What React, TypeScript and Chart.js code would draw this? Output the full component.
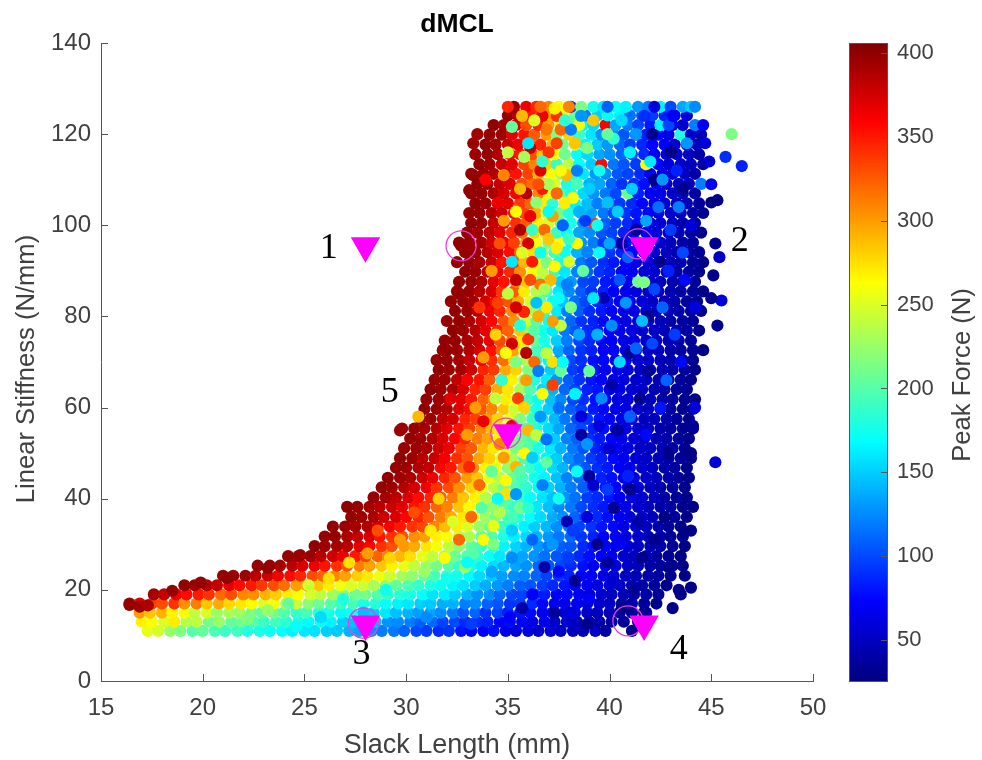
import React, { useEffect, useRef } from "react";
import { Chart, registerables } from "chart.js";

Chart.register(...registerables);

// Each row: slack length, peak force, slack length, peak force ... read at one stiffness level.
const r11 = [17.3,255,17.8,248,18.4,225,18.9,215,19.5,200,20,205,20.6,195,21.1,190,21.7,192,22.2,180,22.8,178,23.3,172,23.9,170,24.4,165,25,160,25.5,158,26.1,150,26.6,148,27.2,140,27.7,135,28.3,128,28.8,120,29.4,118,29.9,110,30.5,100,31,95,31.6,88,32.1,92,32.7,80,33.2,75,33.8,70,34.3,78,34.9,65,35.4,60,36,62,36.5,55,37.1,58,37.6,50,38.2,48,38.7,45,39.3,52,39.8,38,41.1,30];
const r13 = [17,268,17.5,262,18.1,250,18.6,270,19.2,235,19.7,240,20.3,212,20.8,225,21.4,205,21.9,208,22.5,200,23,190,23.6,192,24.1,185,24.7,178,25.2,168,25.8,172,26.3,165,26.9,150,27.4,145,28,130,28.5,142,29.1,128,29.6,125,30.2,120,30.7,108,31.3,112,31.8,98,32.4,100,32.9,88,33.5,90,34,85,34.6,72,35.1,76,35.7,70,36.2,62,36.8,66,37.3,52,37.9,55,38.4,48,39,50,39.5,42,40.1,38,40.7,34,41.4,30];
const r15 = [16.9,300,17.4,285,18,292,18.5,268,19.1,262,19.6,240,20.2,250,20.7,225,21.3,232,21.8,228,22.4,215,22.9,205,23.5,212,24,200,24.6,190,25.1,195,25.7,182,26.2,178,26.8,168,27.3,172,27.9,158,28.4,150,29,160,29.5,145,30.1,140,30.6,132,31.2,135,31.7,125,32.3,118,32.8,105,33.4,110,33.9,92,34.5,98,35,85,35.6,80,36.1,76,36.7,68,37.2,70,37.8,58,38.3,62,38.9,52,39.4,48,40,45,40.5,40,41.1,34,41.7,30];
const r17 = [16.4,395,16.9,372,17.5,335,18,330,18.6,340,19.1,305,19.7,312,20.2,285,20.8,295,21.3,278,21.9,272,22.4,265,23,250,23.5,258,24.1,238,24.6,242,25.2,220,25.7,208,26.3,200,26.8,190,27.4,195,27.9,178,28.5,182,29,170,29.6,165,30.1,160,30.7,150,31.2,148,31.8,138,32.3,140,32.9,120,33.4,125,34,110,34.5,105,35.1,92,35.6,95,36.2,88,36.7,75,37.3,70,37.8,65,38.4,68,38.9,55,39.5,52,40,50,40.6,42,41.1,38,41.7,35,42.3,30];
const r19 = [17.6,392,18.1,380,18.7,365,19.2,355,19.8,350,20.3,340,20.9,320,21.4,330,22,308,22.5,305,23.1,292,23.6,282,24.2,270,24.7,262,25.3,248,25.8,238,26.4,228,26.9,222,27.5,210,28,212,28.6,198,29.1,190,29.7,182,30.2,178,30.8,170,31.3,158,31.9,162,32.4,150,33,140,33.5,128,34.1,125,34.6,112,35.2,100,35.7,98,36.3,90,36.8,82,37.4,72,37.9,75,38.5,68,39,58,39.6,55,40.1,50,40.7,46,41.2,42,41.8,40,42.4,32,43.5,28];
const r21 = [19.1,398,19.6,395,20.2,388,20.7,380,21.3,368,21.8,355,22.4,350,22.9,338,23.5,330,24,318,24.6,300,25.1,296,25.7,285,26.2,270,26.8,258,27.3,250,27.9,245,28.4,232,29,222,29.5,205,30.1,198,30.6,188,31.2,180,31.7,172,32.3,165,32.8,158,33.4,150,33.9,138,34.5,130,35,120,35.6,108,36.1,105,36.7,95,37.2,88,37.8,80,38.3,72,38.9,68,39.4,60,40,58,40.5,52,41.1,44,41.6,40,42.2,36,42.8,30];
const r24 = [21,398,21.5,395,22.1,396,22.6,385,23.2,378,23.7,362,24.3,355,24.8,345,25.4,330,25.9,322,26.5,308,27,298,27.6,282,28.1,272,28.7,258,29.2,245,29.8,230,30.3,222,30.9,205,31.4,195,32,188,32.5,175,33.1,168,33.6,155,34.2,148,34.7,132,35.3,125,35.8,122,36.4,110,36.9,98,37.5,92,38,85,38.6,72,39.1,70,39.7,62,40.2,60,40.8,50,41.3,45,41.9,42,42.4,38,43,32,43.7,28];
const r26 = [22.7,398,23.3,396,23.8,392,24.4,385,24.9,372,25.5,365,26,352,26.6,340,27.1,328,27.7,312,28.2,298,28.8,285,29.3,268,29.9,255,30.4,240,31,225,31.5,212,32.1,200,32.6,188,33.2,178,33.7,165,34.3,155,34.8,142,35.4,135,35.9,128,36.5,112,37,105,37.6,98,38.1,88,38.7,78,39.2,68,39.8,65,40.3,58,40.9,52,41.4,46,42,42,42.5,36,43.1,32,43.6,28];
const r28 = [24.2,398,24.7,396,25.3,395,25.8,385,26.4,376,26.9,365,27.5,350,28,335,28.6,322,29.1,308,29.7,290,30.2,275,30.8,255,31.3,240,31.9,225,32.4,208,33,198,33.5,182,34.1,172,34.6,160,35.2,145,35.7,135,36.3,128,36.8,115,37.4,105,37.9,100,38.5,88,39,78,39.6,70,40.1,68,40.7,55,41.2,50,41.8,45,42.3,38,42.9,32,43.5,28];
const r30 = [25.5,400,26,396,26.6,392,27.1,385,27.7,368,28.2,358,28.8,340,29.3,328,29.9,302,30.4,295,31,272,31.5,260,32.1,240,32.6,222,33.2,205,33.7,192,34.3,182,34.8,165,35.4,152,35.9,140,36.5,130,37,118,37.6,108,38.1,105,38.7,88,39.2,80,39.8,72,40.3,68,40.9,58,41.4,50,42,45,42.5,42,43.1,34,43.7,28];
const r32 = [26,398,26.5,398,27.1,390,27.6,380,28.2,372,28.7,352,29.3,340,29.8,330,30.4,305,30.9,300,31.5,268,32,262,32.6,240,33.1,232,33.7,205,34.2,198,34.8,180,35.3,165,35.9,155,36.4,140,37,130,37.5,118,38.1,112,38.6,92,39.2,85,39.7,72,40.3,70,40.8,60,41.4,52,41.9,48,42.5,40,43,34,43.6,28];
const r35 = [26.4,400,27,396,27.5,392,28.1,388,28.6,375,29.2,362,29.7,350,30.3,340,30.8,332,31.4,310,31.9,288,32.5,270,33,250,33.6,225,34.1,212,34.7,190,35.2,178,35.8,165,36.3,150,36.9,142,37.4,125,38,118,38.5,98,39.1,92,39.6,80,40.2,75,40.7,62,41.3,55,41.8,48,42.4,42,42.9,35,43.5,28];
const r37 = [27.3,398,27.8,395,28.4,390,28.9,378,29.5,372,30,358,30.6,345,31.1,328,31.7,312,32.2,295,32.8,272,33.3,255,33.9,228,34.4,215,35,195,35.5,182,36.1,170,36.6,155,37.2,138,37.7,128,38.3,110,38.8,95,39.4,88,39.9,78,40.5,68,41,60,41.6,52,42.1,48,42.7,40,43.2,34,43.8,28];
const r39 = [27.1,400,27.6,396,28.2,392,28.7,385,29.3,378,29.8,368,30.4,352,30.9,340,31.5,322,32,310,32.6,285,33.1,265,33.7,245,34.2,222,34.8,205,35.3,188,35.9,172,36.4,160,37,145,37.5,125,38.1,118,38.6,100,39.2,90,39.7,82,40.3,70,40.8,65,41.4,55,41.9,50,42.5,42,43,38,43.6,30,44.1,28];
const r41 = [28.4,398,29,392,29.5,382,30.1,372,30.6,355,31.2,345,31.7,325,32.3,312,32.8,285,33.4,268,33.9,235,34.5,222,35,200,35.6,190,36.1,170,36.7,158,37.2,145,37.8,128,38.3,115,38.9,95,39.4,88,40,80,40.5,68,41.1,62,41.6,55,42.2,48,42.7,40,43.3,35,43.8,30];
const r43 = [28.8,398,29.3,395,29.9,385,30.4,375,31,362,31.5,340,32.1,330,32.6,305,33.2,280,33.7,262,34.3,238,34.8,212,35.4,198,35.9,185,36.5,168,37,152,37.6,140,38.1,120,38.7,108,39.2,88,39.8,82,40.3,72,40.9,62,41.4,55,42,50,42.5,42,43.1,38,43.7,30];
const r45 = [29.1,400,29.7,395,30.2,390,30.8,378,31.3,365,31.9,345,32.4,328,33,300,33.5,285,34.1,258,34.6,235,35.2,205,35.7,192,36.3,175,36.8,165,37.4,145,37.9,122,38.5,112,39,95,39.6,85,40.1,78,40.7,68,41.2,60,41.8,52,42.3,48,42.9,40,43.4,35,43.9,30];
const r47 = [29.5,398,30,395,30.6,388,31.1,382,31.7,358,32.2,350,32.8,320,33.3,305,33.9,268,34.4,255,35,222,35.5,198,36.1,188,36.6,170,37.2,155,37.7,140,38.3,118,38.8,105,39.4,90,39.9,82,40.5,72,41,65,41.6,55,42.1,50,42.7,42,43.2,38,43.8,30];
const r49 = [29.7,400,30.3,396,30.8,385,31.4,380,31.9,362,32.5,342,33,328,33.6,298,34.1,280,34.7,250,35.2,232,35.8,195,36.3,182,36.9,165,37.4,150,38,125,38.5,112,39.1,95,39.6,85,40.2,75,40.7,68,41.3,58,41.8,52,42.4,45,42.9,40,43.5,35,44,30];
const r51 = [29.9,398,30.5,395,31,390,31.6,378,32.1,365,32.7,335,33.2,325,33.8,290,34.3,272,34.9,258,35.4,215,36,200,36.5,178,37.1,160,37.6,140,38.2,118,38.7,105,39.3,85,39.8,78,40.4,70,40.9,62,41.5,52,42,50,42.6,45,43.1,38,43.7,32];
const r53 = [30.2,398,30.7,395,31.3,388,31.8,372,32.4,360,32.9,345,33.5,312,34,298,34.6,268,35.1,262,35.7,205,36.2,195,36.8,168,37.3,150,37.9,122,38.4,108,39,90,39.5,82,40.1,72,40.6,65,41.2,58,41.7,52,42.3,45,42.8,42,43.4,36,43.9,30];
const r55 = [29.8,395,30.4,398,30.9,392,31.5,385,32,370,32.6,352,33.1,335,33.7,308,34.2,290,34.8,255,35.3,240,35.9,198,36.4,182,37,155,37.5,135,38.1,112,38.6,100,39.2,85,39.7,78,40.3,68,40.8,60,41.4,55,41.9,50,42.5,44,43,38,43.6,32,44.1,28];
const r57 = [30.7,398,31.2,395,31.8,382,32.3,375,32.9,345,33.4,335,34,300,34.5,280,35.1,255,35.6,218,36.2,190,36.7,165,37.3,142,37.8,118,38.4,100,38.9,92,39.5,80,40,72,40.6,62,41.1,58,41.7,50,42.2,48,42.8,42,43.3,36,43.9,30];
const r59 = [30.9,400,31.5,396,32,388,32.6,370,33.1,355,33.7,328,34.2,310,34.8,285,35.3,245,35.9,212,36.4,178,37,150,37.5,130,38.1,108,38.6,95,39.2,82,39.7,75,40.3,65,40.8,60,41.4,55,41.9,48,42.5,45,43,38,43.6,32,44.1,30];
const r61 = [31,398,31.6,395,32.1,385,32.7,368,33.2,350,33.8,322,34.3,305,34.9,270,35.4,255,36,190,36.5,170,37.1,145,37.6,125,38.2,100,38.7,90,39.3,78,39.8,72,40.4,60,40.9,58,41.5,52,42,48,42.6,42,43.1,38,43.7,32,44.2,28];
const r63 = [31.2,400,31.7,396,32.3,390,32.8,372,33.4,345,33.9,335,34.5,295,35,272,35.6,230,36.1,198,36.7,155,37.2,140,37.8,112,38.3,98,38.9,85,39.4,80,40,65,40.5,62,41.1,55,41.6,52,42.2,45,42.7,42,43.3,36,43.8,32];
const r65 = [31.4,398,31.9,395,32.5,382,33,375,33.6,352,34.1,325,34.7,312,35.2,268,35.8,225,36.3,180,36.9,162,37.4,128,38,108,38.5,92,39.1,80,39.6,75,40.2,68,40.7,60,41.3,55,41.8,50,42.4,45,42.9,42,43.5,35,44,30];
const r67 = [31.6,400,32.1,396,32.7,392,33.2,378,33.8,345,34.3,338,34.9,295,35.4,280,36,215,36.5,175,37.1,150,37.6,122,38.2,95,38.7,88,39.3,78,39.8,70,40.4,65,40.9,60,41.5,52,42,50,42.6,45,43.1,40,43.7,36,44.2,30];
const r70 = [31.5,398,32,398,32.6,392,33.1,380,33.7,360,34.2,342,34.8,318,35.3,282,35.9,232,36.4,185,37,165,37.5,128,38.1,100,38.6,90,39.2,78,39.7,75,40.3,68,40.8,62,41.4,55,41.9,52,42.5,48,43,42,43.6,38,44.1,32];
const r72 = [32,400,32.5,395,33.1,388,33.6,372,34.2,352,34.7,325,35.3,298,35.8,250,36.4,192,36.9,170,37.5,135,38,110,38.6,92,39.1,85,39.7,72,40.2,70,40.8,62,41.3,58,41.9,50,42.4,48,43,42,43.5,38,44.1,35,44.6,28];
const r74 = [31.9,398,32.4,398,33,390,33.5,380,34.1,365,34.6,332,35.2,315,35.7,270,36.3,205,36.8,178,37.4,150,37.9,120,38.5,98,39,88,39.6,75,40.1,72,40.7,65,41.2,60,41.8,52,42.3,50,42.9,45,43.4,40,44,36];
const r76 = [32.3,400,32.8,395,33.4,385,33.9,368,34.5,345,35,322,35.6,285,36.1,225,36.7,175,37.2,160,37.8,118,38.3,105,38.9,88,39.4,82,40,72,40.5,65,41.1,62,41.6,55,42.2,52,42.7,46,43.3,40,43.8,38,44.4,30];
const r78 = [32,398,32.6,398,33.1,390,33.7,375,34.2,358,34.8,328,35.3,305,35.9,245,36.4,200,37,170,37.5,135,38.1,112,38.6,92,39.2,85,39.7,75,40.3,70,40.8,62,41.4,58,41.9,52,42.5,48,43,42,43.6,38,44.1,34];
const r80 = [32.4,400,33,395,33.5,385,34.1,362,34.6,345,35.2,310,35.7,282,36.3,230,36.8,178,37.4,162,37.9,120,38.5,108,39,90,39.6,82,40.1,72,40.7,65,41.2,62,41.8,55,42.3,50,42.9,45,43.4,40,44,38,44.5,30];
const r83 = [32.2,398,32.8,398,33.3,392,33.9,375,34.4,355,35,328,35.5,295,36.1,250,36.6,205,37.2,172,37.7,145,38.3,115,38.8,100,39.4,88,39.9,80,40.5,70,41,68,41.6,58,42.1,52,42.7,48,43.2,42,43.8,38,44.3,32];
const r85 = [32.5,400,33.1,396,33.6,385,34.2,372,34.7,340,35.3,325,35.8,270,36.4,235,36.9,190,37.5,160,38,125,38.6,108,39.1,92,39.7,85,40.2,72,40.8,68,41.3,60,41.9,55,42.4,50,43,45,43.5,40,44.1,36,44.6,30];
const r87 = [32.6,398,33.2,398,33.7,390,34.3,368,34.8,352,35.4,315,35.9,282,36.5,225,37,205,37.6,150,38.1,132,38.7,100,39.2,95,39.8,82,40.3,78,40.9,65,41.4,210,42,55,42.5,48,43.1,44,43.6,38,44.2,34];
const r89 = [32.9,400,33.4,396,34,385,34.5,362,35.1,345,35.6,305,36.2,262,36.7,240,37.3,185,37.8,160,38.4,122,38.9,110,39.5,92,40,85,40.6,72,41.1,68,41.7,58,42.2,55,42.8,48,43.3,42,43.9,38,44.4,32];
const r91 = [32.5,398,33.1,398,33.6,390,34.2,378,34.7,352,35.3,338,35.8,290,36.4,268,36.9,215,37.5,178,38,150,38.6,118,39.1,105,39.7,90,40.2,82,40.8,70,41.3,65,41.9,58,42.4,52,43,46,43.5,42,44.1,36,44.6,30];
const r94 = [32.9,398,33.4,396,34,385,34.5,372,35.1,355,35.6,320,36.2,275,36.7,235,37.3,195,37.8,172,38.4,140,38.9,122,39.5,110,40,92,40.6,85,41.1,72,41.7,66,42.2,55,42.8,50,43.3,45,43.9,38,44.4,34];
const r96 = [32.6,400,33.1,398,33.7,392,34.2,375,34.8,362,35.3,335,35.9,300,36.4,262,37,210,37.5,265,38.1,168,38.6,128,39.2,120,39.7,95,40.3,92,40.8,78,41.4,70,41.9,62,42.5,55,43,48,43.6,42,44.1,36];
const r98 = [33,398,33.5,392,34.1,382,34.6,368,35.2,345,35.7,318,36.3,280,36.8,240,37.4,190,37.9,170,38.5,135,39,125,39.6,105,40.1,98,40.7,85,41.2,75,41.8,68,42.3,58,42.9,50,43.4,45,44,38,44.5,32];
const r100 = [33.2,400,33.7,396,34.3,380,34.8,372,35.4,340,35.9,325,36.5,268,37,248,37.6,195,38.1,178,38.7,130,39.2,340,39.8,108,40.3,95,40.9,88,41.4,78,42,65,42.5,58,43.1,50,43.6,42,44.2,36];
const r103 = [33.1,398,33.6,398,34.2,388,34.7,378,35.3,355,35.8,335,36.4,292,36.9,250,37.5,210,38,180,38.6,150,39.1,135,39.7,118,40.2,102,40.8,92,41.3,80,41.9,72,42.4,62,43,55,43.5,48,44.1,40,44.6,32];
const r105 = [33.4,400,33.9,395,34.5,382,35,368,35.6,338,36.1,322,36.7,270,37.2,185,37.8,235,38.3,165,38.9,145,39.4,120,40,110,40.5,95,41.1,88,41.6,75,42.2,68,42.7,55,43.3,50,43.8,45,44.4,36];
const r107 = [33.2,398,33.7,398,34.3,390,34.8,375,35.4,360,35.9,325,36.5,310,37,255,37.6,200,38.1,180,38.7,155,39.2,128,39.8,118,40.3,100,40.9,210,41.4,85,42,70,42.5,65,43.1,52,43.6,48,44.2,38];
const r109 = [33.5,400,34,392,34.6,380,35.1,372,35.7,330,36.2,318,36.8,275,37.3,250,37.9,178,38.4,195,39,140,39.5,135,40.1,110,40.6,92,41.2,90,41.7,78,42.3,65,42.8,55,43.4,50,43.9,45,44.5,120];
const r111 = [33.2,398,33.8,396,34.3,388,34.9,378,35.4,352,36,335,36.5,290,37.1,265,37.6,225,38.2,175,38.7,160,39.3,130,39.8,125,40.4,105,40.9,98,41.5,88,42,72,42.6,62,43.1,58,43.7,50,44.2,42];
const r114 = [33.6,400,34.1,395,34.7,380,35.2,370,35.8,335,36.3,310,36.9,280,37.4,190,38,240,38.5,170,39.1,150,39.6,355,40.2,118,40.7,105,41.3,95,41.8,260,42.4,75,42.9,58,43.5,52,44,48,44.6,40];
const r116 = [33.4,395,34,398,34.5,388,35.1,365,35.6,350,36.2,330,36.7,285,37.3,260,37.8,210,38.4,170,38.9,155,39.5,135,40,128,40.6,110,41.1,100,41.7,88,42.2,70,42.8,62,43.3,55,43.9,50,44.4,42];
const r118 = [33.9,400,34.4,392,35,380,35.5,365,36.1,320,36.6,345,37.2,290,37.7,210,38.3,245,38.8,165,39.4,150,39.9,130,40.5,112,41,98,41.6,88,42.1,72,42.7,70,43.2,55,43.8,52,44.3,45];
const r120 = [34.1,398,34.7,395,35.2,370,35.8,352,36.3,325,36.9,300,37.4,215,38,280,38.5,190,39.1,160,39.6,130,40.2,125,40.7,105,41.3,95,41.8,85,42.4,75,42.9,62,43.5,180,44,55,44.5,45];
const r122 = [34.3,400,34.8,392,35.4,375,35.9,330,36.5,345,37,300,37.6,270,38.1,195,38.7,168,39.2,155,39.8,360,40.3,135,40.9,120,41.4,100,42,82,42.5,165,43.1,65,43.6,55,44.2,120,44.6,70];
const r124 = [35,398,35.5,385,36.1,350,36.6,335,37.2,295,37.7,250,38.3,210,38.8,120,39.4,150,39.9,170,40.5,165,41,115,41.6,105,42.1,95,42.7,85,43.2,72,43.8,60];
const r126 = [35.3,395,35.9,365,36.4,345,37,310,37.5,265,38.1,90,38.6,215,39.2,175,39.7,160,40.3,170,40.8,165,41.4,130,41.9,120,42.5,165,43,100,43.6,135,44,150];

const stiffnessLevels = [11,13,15,17,19,21,23.1,25.3,27.4,29.6,31.7,33.9,36,38.2,40.3,42.5,44.6,46.8,48.9,51.1,53.2,55.4,57.5,59.7,61.8,64,66.1,68.3,70.4,72.6,74.7,76.9,79,81.2,83.3,85.5,87.6,89.8,91.9,94.1,96.2,98.4,100.5,102.7,104.8,107,109.1,111.3,113.4,115.6,117.7,119.9,122,124.1,126];
const stiffnessRows = [r11,r13,r15,r17,r19,r21,r24,r26,r28,r30,r32,r35,r37,r39,r41,r43,r45,r47,r49,r51,r53,r55,r57,r59,r61,r63,r65,r67,r70,r72,r74,r76,r78,r80,r83,r85,r87,r89,r91,r94,r96,r98,r100,r103,r105,r107,r109,r111,r114,r116,r118,r120,r122,r124,r126];

// Warm points reaching right into the upper cloud: [slack, stiffness, force]
const warmUpper = [[35.5,62,335],[35.9,66,300],[36.3,70,320],[36.7,63,265],[35.2,74,375],[35.8,81,345],[36.5,80,295],[36.9,82,270],[35.9,72,385],[35.4,88,380],[36.2,92,350],[36.6,87,315],[37.1,88,290],[37.4,95,270],[36,96,375],[36.8,99,320],[37.2,102,300],[36.1,102,365],[35.6,99,390],[35.9,107,385],[36.7,108,350],[37.4,107,320],[37.9,111,290],[36.6,112,370],[36.1,117,380],[37,116,340],[37.6,121,320],[38.3,118,285],[36.7,124,365],[37.4,124,340],[38,126,310],[38.5,122,260],[38.2,106,260],[38,92,250],[37.6,78,240],[37.2,70,275],[37.6,68,205],[36,55,290],[35.8,50,265],[36.4,54,240],[36.9,48,205],[35.4,47,290],[34.9,41,275],[35.6,38,210],[34.3,34,255],[33.8,31,265],[33.2,36,320],[32.6,31,320],[32.9,25,225],[31.9,27,265],[34.6,37,235],[35.2,36,195]];
// Points in the upper cloud, where colours are strongly mixed: [slack, stiffness, force]
const mixedUpper = [[35.2,121.6,205],[37.3,125.6,268],[36,118,160],[34.8,111,310],[35.6,108,290],[36.3,123,250],[36.7,114,185],[37.4,118,335],[38.1,121,120],[38.4,112,120],[38.9,117,215],[37.8,105,270],[37,103,170],[36.2,99,190],[35.4,103,265],[34.6,96,330],[35.2,92,160],[36.1,88,330],[36.6,94,175],[37.3,91,265],[37.9,87,120],[38.4,96,265],[38.7,90,205],[39.2,84,160],[38.1,82,215],[37.2,79,300],[36.4,83,145],[35.6,78,180],[36,75,340],[36.9,72,240],[37.7,70,170],[38.5,76,135],[39,68,205],[38.3,63,165],[37.2,65,335],[36.5,68,120],[35.4,70,215],[34.7,66,185],[35.8,60,280],[36.6,58,130],[37.5,60,115],[38.6,58,60],[39.6,62,125],[40.1,78,125],[40.8,83,130],[41.6,79,145],[42.1,74,100],[40.5,70,155],[41.3,73,110],[42.6,82,110],[43.2,76,95],[41.7,87.5,215],[40.9,93,110],[40,96,135],[39.4,100,175],[39.9,105,145],[40.4,103,150],[41.1,108,150],[41.8,101,135],[42.4,104,115],[43,99,95],[43.6,94,100],[42.9,90,85],[42.2,86,100],[41,116,165],[40.2,119,185],[39.5,112,175],[39,108,150],[38.5,103,140],[39.9,120,205],[40.6,123,155],[41.3,120,130],[42,114,160],[42.6,110,130],[43.3,112,85],[43.8,118,130],[42.9,122,100],[41.7,124,90],[43.4,104,120],[44,100,60],[43.7,88,75],[44.2,82,60],[43.5,70,75],[42.8,66,110],[37,109,230],[36.4,105,220],[35.8,115,230],[35,116,240],[34.5,105,365],[33.9,110,360],[34.8,101,300],[34.2,90,300],[33.6,82,340],[34.4,76,280],[33.8,71,300],[33,66,360],[34.9,72,260],[33.4,60,300],[32.2,62,370],[33,54,300],[33.8,57,365],[34.6,52,310],[35.2,56,370],[34.4,62,240],[38,97,190],[37.5,84,170],[36.8,86,230],[36.3,77,200],[35.7,94,250],[35,85,240],[34.5,83,335],[35.4,82,375],[37.6,112,265],[39.2,123,285],[38.6,124,130],[37.8,123,185],[36.9,121,315],[35.7,124,290],[35,126,345],[36.6,126,320],[39.9,126,110],[42.2,126,60],[43.1,124,70],[44.2,126,125],[37.7,100,110],[38.8,101,95],[39.5,94,170],[40.5,88,105],[39.4,76,140],[37,97,285],[36.5,109,330]];
// Points in the lower cloud, where mixing is weaker: [slack, stiffness, force]
const mixedLower = [[34.5,55.5,270],[34.8,49,300],[35.5,52,210],[36.2,49,150],[36.9,53,115],[35.6,46,200],[34.9,44,265],[34.2,46,205],[33.6,43,320],[33.1,47,345],[33.7,38,200],[34.5,40,170],[35.4,41,130],[36,38,185],[36.7,43,120],[37.5,40,175],[38.4,46,170],[38.9,52,130],[39.5,56,60],[38.2,33,95],[37.2,30,130],[36.2,31,110],[35.2,33,150],[34.3,30,215],[33.3,28,200],[32.3,35,250],[31.6,40,280],[31.2,33,270],[30.4,37,330],[29.7,31,300],[29.2,27,280],[28.6,33,330],[28.1,28,300],[27.2,26,275],[26.2,22.5,275],[25.2,21,245],[24.2,17,205],[23.2,15.5,225],[22.2,13.5,215],[30.9,24,225],[32,22.5,175],[33,26,170],[34.2,24,135],[35.2,27,125],[36.2,19,70],[37.5,24,75],[38.9,36,60],[39.9,42,95],[40.5,30,70],[41.4,35,40],[40.9,45,85],[41.8,54,75],[42.5,60,80],[41,58,110],[40,51,55],[39.2,43,55],[38,27,95],[39,18,70],[38.1,15,60],[35.1,14,72],[33.2,12.5,95],[31,14,125],[29,20,175],[27.9,15,145],[26.9,18,180],[25.8,14,155],[24.6,12,170],[42.2,31,30],[42.9,25,30],[41.2,20,35],[40.2,22,55]];
// Navy points over the blue side of the cloud: [slack, stiffness, force]
const darkRight = [[39.4,30,30],[38.3,22,32],[37.3,15,35],[38.9,12.5,30],[39.9,26,35],[40.6,16,28],[40.2,38,32],[39,45,35],[41,42,30],[40.4,55,35],[41.5,62,30],[41,72,35],[41.9,80,30],[42.5,92,32],[41.3,99,35],[42.2,110,30],[43,116,28],[42.1,120,32],[43.6,108,30],[40.1,65,40],[39.7,84,45],[40.6,96,40],[41.9,68,35],[38.6,54,38],[37.9,35,45],[36.8,25,40],[35.7,16,42],[42.9,50,30],[42.7,36,28],[41.6,27,30]];
// Isolated points beyond the cloud's edge: [slack, stiffness, force]
const strayPoints = [[46,120,215],[45.7,115,90],[46.5,113,85],[45.3,105.5,28],[45,105,28],[44.9,114,55],[44.7,118,60],[45,109,70],[45.4,93,50],[45.2,96,30],[45.1,89,30],[45.5,83.5,60],[45,84,30],[45.3,78,32],[45.2,48,60],[44.2,60,60],[44.1,56,35],[44,50,30],[44,33,28],[44,20.5,30],[43.4,20,30],[43.1,16,30],[41.8,15,32],[32.7,95.5,398],[33.1,95.5,395],[33.3,111,398],[33.1,107.7,398],[33.5,120,392],[33.3,118,396],[29.7,55,396],[30.6,58,290],[16.4,16.7,398],[16.9,16.3,395],[17.3,16.6,390],[18.5,19.8,398],[19.9,21.6,398],[21.2,22.6,398],[23.2,24.8,398],[24.8,27.6,396],[31.8,72.6,398],[32.6,85,398]];

// Magenta markers: triangles, circles and the numbered labels
const triangleSlack = [28,41.7,28,41.7,35];
const triangleStiffness = [95.5,95.5,12.5,12.5,54.5];
const circleSlack = [32.7,41.4,27.9,40.9,34.9];
const circleStiffness = [95.5,95.9,12.7,13.2,54.4];
const labelTexts = ["1","2","3","4","5"];
const labelSlack = [26.2,46.4,27.8,43.4,29.2];
const labelStiffness = [94.8,96.5,5.9,6.8,63.4];

const xTicks = [15,20,25,30,35,40,45,50];
const yTicks = [0,20,40,60,80,100,120,140];
const forceTicks = [50,100,150,200,250,300,350,400];
const FORCE_MIN = 25.6;
const FORCE_MAX = 406;

const jet = (f: number) => {
  const t = Math.min(1, Math.max(0, (f - FORCE_MIN) / (FORCE_MAX - FORCE_MIN)));
  const c = (d: number) => Math.round(255 * Math.min(1, Math.max(0, 1.5 - Math.abs(4 * t - d))));
  return `rgb(${c(3)},${c(2)},${c(1)})`;
};

const TEXT = "#404040";
const AXIS = "#555555";
const FONT = "'Liberation Sans', Arial, sans-serif";

const decor = {
  id: "decor",
  afterDraw(chart: any) {
    const { ctx, chartArea: a, scales } = chart;
    const sx = scales.x, sy = scales.y, sf = scales.force;
    ctx.save();
    ctx.strokeStyle = AXIS;
    ctx.lineWidth = 1;
    ctx.beginPath();
    xTicks.forEach((v) => { const p = Math.round(sx.getPixelForValue(v)) + 0.5; ctx.moveTo(p, a.bottom); ctx.lineTo(p, a.bottom - 7); });
    yTicks.forEach((v) => { const p = Math.round(sy.getPixelForValue(v)) + 0.5; ctx.moveTo(a.left, p); ctx.lineTo(a.left + 7, p); });
    ctx.stroke();
    const L = 849, W = 38;
    const g = ctx.createLinearGradient(0, sf.bottom, 0, sf.top);
    for (let i = 0; i <= 64; i++) {
      g.addColorStop(i / 64, jet(FORCE_MIN + (i / 64) * (FORCE_MAX - FORCE_MIN)));
    }
    ctx.fillStyle = g;
    ctx.fillRect(L, sf.top, W, sf.bottom - sf.top);
    ctx.strokeStyle = AXIS;
    ctx.strokeRect(L + 0.5, sf.top + 0.5, W, sf.bottom - sf.top);
    ctx.beginPath();
    forceTicks.forEach((v) => { const p = Math.round(sf.getPixelForValue(v)) + 0.5; ctx.moveTo(L + W, p); ctx.lineTo(L + W - 6, p); });
    ctx.stroke();
    ctx.textBaseline = "middle";
    ctx.textAlign = "left";
    ctx.fillStyle = TEXT;
    ctx.font = `22px ${FONT}`;
    forceTicks.forEach((v) => ctx.fillText(String(v), 897, sf.getPixelForValue(v)));
    ctx.textAlign = "center";
    ctx.fillStyle = "#000";
    ctx.font = "36px 'Liberation Serif', serif";
    labelTexts.forEach((s, i) => ctx.fillText(s, sx.getPixelForValue(labelSlack[i]), sy.getPixelForValue(labelStiffness[i])));
    ctx.font = `bold 26.5px ${FONT}`;
    ctx.fillText("dMCL", 457, 25);
    ctx.fillStyle = TEXT;
    ctx.font = `25.6px ${FONT}`;
    ctx.save();
    ctx.translate(963, 375);
    ctx.rotate(-Math.PI / 2);
    ctx.fillText("Peak Force (N)", 0, 0);
    ctx.restore();
    ctx.translate(27, 369);
    ctx.rotate(-Math.PI / 2);
    ctx.fillText("Linear Stiffness (N/mm)", 0, 0);
    ctx.restore();
  },
};

export default function App() {
  const ref = useRef<HTMLCanvasElement>(null);
  useEffect(() => {
    const pts: { x: number; y: number }[] = [];
    const cols: string[] = [];
    stiffnessRows.forEach((row, i) => {
      for (let k = 0; k < row.length; k += 2) {
        pts.push({ x: row[k], y: stiffnessLevels[i] });
        cols.push(jet(row[k + 1]));
      }
    });
    [...warmUpper, ...darkRight, ...mixedLower, ...mixedUpper, ...strayPoints].forEach(([x, y, f]) => { pts.push({ x, y }); cols.push(jet(f)); });
    const chart = new Chart(ref.current!, {
      type: "scatter",
      data: {
        datasets: [
          { order: 3, data: pts, backgroundColor: cols, borderWidth: 0, pointRadius: 6.1, pointHoverRadius: 6.1 },
          { order: 1, data: triangleSlack.map((x, i) => ({ x, y: triangleStiffness[i] })), backgroundColor: "#ff00ff", borderWidth: 0, pointStyle: "triangle", rotation: 180, pointRadius: 17 },
          { order: 2, data: circleSlack.map((x, i) => ({ x, y: circleStiffness[i] })), backgroundColor: "rgba(0,0,0,0)", borderColor: "#f03ce0", borderWidth: 1.3, pointRadius: 15 },
        ],
      } as any,
      options: {
        animation: false,
        responsive: false,
        layout: { padding: { top: 43, bottom: 0, left: 0, right: 0 } },
        plugins: {
          legend: { display: false },
          tooltip: { enabled: false },
        },
        scales: {
          x: {
            type: "linear", min: 15, max: 50,
            afterFit: (s: any) => { s.height = 79; },
            grid: { drawOnChartArea: false, drawTicks: false },
            border: { color: AXIS, width: 1 },
            afterBuildTicks: (s: any) => { s.ticks = xTicks.map((value) => ({ value })); },
            ticks: { color: TEXT, padding: 13, font: { family: FONT, size: 24 }, maxRotation: 0, autoSkip: false },
            title: { display: true, text: "Slack Length (mm)", color: TEXT, font: { family: FONT, size: 27 }, padding: { top: 4, bottom: -2 } },
          },
          y: {
            type: "linear", min: 0, max: 140, position: "left",
            afterFit: (s: any) => { s.width = 101; },
            grid: { drawOnChartArea: false, drawTicks: false },
            border: { color: AXIS, width: 1 },
            afterBuildTicks: (s: any) => { s.ticks = yTicks.map((value) => ({ value })); },
            ticks: { color: TEXT, padding: 10, font: { family: FONT, size: 24 }, autoSkip: false },
          },
          force: {
            type: "linear", min: FORCE_MIN, max: FORCE_MAX, position: "right",
            afterFit: (s: any) => { s.width = 169; },
            grid: { drawOnChartArea: false, drawTicks: false },
            border: { display: false },
            ticks: { display: false },
          },
        },
      } as any,
      plugins: [decor],
    });
    return () => chart.destroy();
  }, []);
  return <canvas ref={ref} width={982} height={760} style={{ position: "absolute", left: 0, top: 0, width: 982, height: 760, display: "block" }} />;
}
